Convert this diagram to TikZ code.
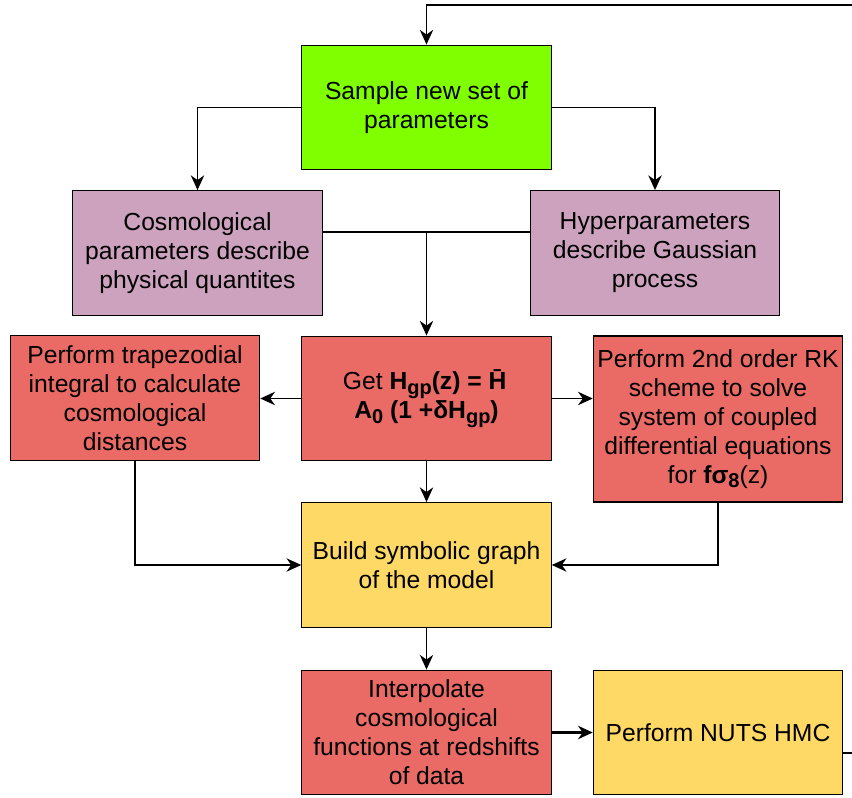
\documentclass[tikz,border=0pt]{standalone}
\usepackage{fontspec}
\setmainfont{Liberation Sans}
\usetikzlibrary{arrows.meta}
\definecolor{cgreen}{HTML}{80FF00}
\definecolor{cpink}{HTML}{CDA2BE}
\definecolor{cred}{HTML}{EA6B66}
\definecolor{cyel}{HTML}{FFD966}
\newcommand{\mysub}[1]{\raisebox{-0.35ex}{\fontsize{15pt}{15pt}\selectfont #1}}
\begin{document}
\begin{tikzpicture}[x=0.75pt,y=-0.75pt,
  box/.style={draw=black,line width=0.9pt,minimum width=187pt,minimum height=93.5pt,inner sep=0pt,align=center,
    font=\fontsize{18.5pt}{21.75pt}\selectfont},
  arr/.style={line width=1.2pt,-{Stealth[length=11pt,width=10pt,inset=3.5pt]}},
  ln/.style={line width=1.2pt}]
\useasboundingbox[fill=white] (0,0) rectangle (852,798);
\node[box,fill=cgreen] (sample) at (426.5,107.5) {Sample new set of\\parameters};
\node[box,fill=cpink] (cosmo) at (197.5,253) {Cosmological\\parameters describe\\physical quantites};
\node[box,fill=cpink] (hyper) at (655,253) {Hyperparameters\\describe Gaussian\\process};
\node[box,fill=cred] (geth) at (426.5,398.5) {Get \textbf{H\mysub{gp}(z) = \=H}\\\textbf{A\mysub{0} (1 +δH\mysub{gp})}};
\node[box,fill=cred] (trap) at (135,398) {Perform trapezodial\\integral to calculate\\cosmological\\distances};
\node[box,fill=cred,minimum height=124.5pt] (rk) at (718,419) {Perform 2nd order RK\\scheme to solve\\system of coupled\\differential equations\\for \textbf{fσ\mysub{8}}(z)};
\node[box,fill=cyel] (build) at (426.5,565) {Build symbolic graph\\of the model};
\node[box,fill=cred] (interp) at (426.5,732.5) {Interpolate\\cosmological\\functions at redshifts\\of data};
\node[box,fill=cyel] (nuts) at (718,732.5) {Perform NUTS HMC};
\coordinate (j) at (426.5,232);
\coordinate (r1) at (875,753);
\coordinate (top) at (426.5,5);
\draw[arr] (sample.west) -| (cosmo.north);
\draw[arr] (sample.east) -| (hyper.north);
\draw[ln] (cosmo.east |- j) -- (j);
\draw[ln] (hyper.west |- j) -- (j);
\draw[arr] (j) -- (geth.north);
\draw[arr] (geth.west) -- (trap.east |- geth.west);
\draw[arr] (geth.east) -- (rk.west |- geth.east);
\draw[arr] (geth.south) -- (build.north);
\draw[arr] (trap.south) |- (build.west);
\draw[arr] (rk.south) |- (build.east);
\draw[arr] (build.south) -- (interp.north);
\draw[arr,line width=2.2pt] (interp.east) -- (nuts.west);
\draw[arr] (nuts.east |- r1) -- (r1) |- (top) -- (sample.north);
\end{tikzpicture}
\end{document}
